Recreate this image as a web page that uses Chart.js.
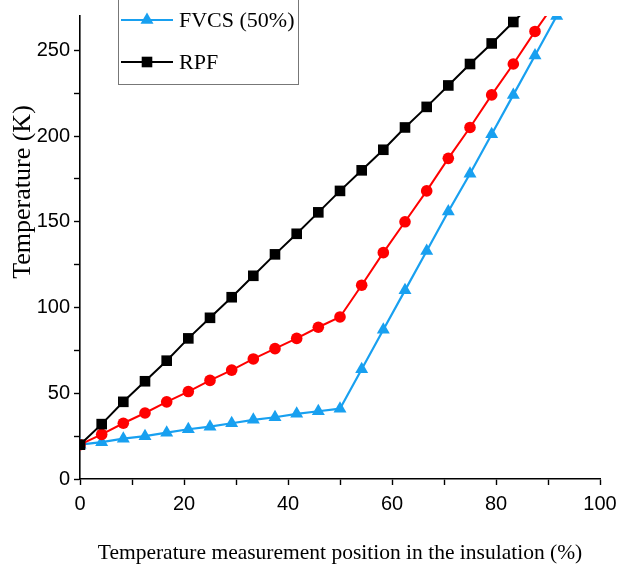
<!DOCTYPE html>
<html><head><meta charset="UTF-8">
<script src="https://cdn.jsdelivr.net/npm/chart.js"></script>
<style>
  html, body { margin: 0; padding: 0; background: #fff; }
  #wrap { width: 617px; height: 570px; position: relative; }
</style></head><body>
<div id="wrap"><canvas id="c"></canvas></div>
<script>
// measurement positions (%) along the insulation
const positions = [0, 4.17, 8.33, 12.5, 16.67, 20.83, 25, 29.17, 33.33, 37.5, 41.67, 45.83,
  50, 54.17, 58.33, 62.5, 66.67, 70.83, 75, 79.17, 83.33, 87.5, 91.67, 95.83];

// temperatures (K); the top of the plot cuts the lines at ~270 K
const redTemps  = [20, 26, 32.5, 38.5, 45, 51, 57.5, 63.5, 70, 76, 82, 88.5,
  94.5, 113, 132, 150, 168, 187, 205, 224, 242, 261, 279];
const fvcsTemps = [20, 21.5, 23.5, 25, 27, 29, 30.5, 32.5, 34.5, 36, 38, 39.5,
  41, 64, 87, 110, 133, 156, 178, 201, 224, 247, 270, 293];
const rpfTemps  = [20, 32, 45, 57, 69, 82, 94, 106, 118.5, 131, 143, 155.5,
  168, 180, 192, 205, 217, 229.5, 242, 254, 266.5, 279];

const xTitle = 'Temperature measurement position in the insulation (%)';
const yTitle = 'Temperature (K)';

const pts = arr => arr.map((v, i) => ({ x: positions[i], y: v }));

const SERIF = '"Liberation Serif", "Times New Roman", serif';
const SANS = '"Liberation Sans", Arial, sans-serif';

// legend drawn inside the plot, top-left, its top cut off like the original
const insideLegend = {
  id: 'insideLegend',
  afterDraw(chart) {
    const ctx = chart.ctx;
    const rows = [-22, 20, 62];
    ctx.save();
    ctx.fillStyle = '#fff';
    ctx.fillRect(118, -40, 180, 124);
    ctx.strokeStyle = '#777';
    ctx.lineWidth = 1;
    ctx.strokeRect(118.5, -40, 180, 124.5);
    chart.data.datasets.forEach((ds, i) => {
      if (!ds.label) return;
      const y = rows[i];
      ctx.strokeStyle = ds.borderColor;
      ctx.lineWidth = 2.2;
      ctx.beginPath(); ctx.moveTo(121, y); ctx.lineTo(173, y); ctx.stroke();
      ctx.fillStyle = ds.backgroundColor;
      Chart.helpers.drawPoint(ctx, { pointStyle: ds.pointStyle, radius: ds.pointRadius, borderWidth: 0, rotation: 0 }, 147, y);
      ctx.fillStyle = '#000';
      ctx.font = '22px ' + SERIF;
      ctx.textBaseline = 'middle';
      ctx.fillText(ds.label, 179, y + 1);
    });
    ctx.restore();
  }
};

// y-axis title sits a bit above the middle of the axis in the original
const yAxisTitle = {
  id: 'yAxisTitle',
  afterDraw(chart) {
    const ctx = chart.ctx;
    ctx.save();
    ctx.translate(23, 192);
    ctx.rotate(-Math.PI / 2);
    ctx.fillStyle = '#000';
    ctx.font = '26px ' + SERIF;
    ctx.textAlign = 'center';
    ctx.textBaseline = 'middle';
    ctx.fillText(yTitle, 0, 0);
    ctx.restore();
  }
};

new Chart(document.getElementById('c'), {
  type: 'line',
  data: {
    datasets: [
      { label: '', data: pts(redTemps), borderColor: '#ff0000', backgroundColor: '#ff0000',
        borderWidth: 2, pointStyle: 'circle', pointRadius: 5.8, pointBorderWidth: 0, order: 1 },
      { label: 'FVCS (50%)', data: pts(fvcsTemps), borderColor: '#18a0f0', backgroundColor: '#18a0f0',
        borderWidth: 2.2, pointStyle: 'triangle', pointRadius: 7.5, pointBorderWidth: 0, order: 2 },
      { label: 'RPF', data: pts(rpfTemps), borderColor: '#000', backgroundColor: '#000',
        borderWidth: 2, pointStyle: 'rect', pointRadius: 7.5, pointBorderWidth: 0, order: 0 }
    ]
  },
  options: {
    responsive: true,
    maintainAspectRatio: false,
    animation: false,
    layout: { padding: { top: 10, right: 17, left: 0, bottom: 0 } },
    plugins: { legend: { display: false }, tooltip: { enabled: false } },
    scales: {
      x: {
        type: 'linear', min: 0, max: 100,
        afterFit: s => { s.height = 91; s.paddingRight = 0; s.paddingLeft = 0; },
        border: { color: '#000', width: 1.6 },
        grid: { drawOnChartArea: false, tickLength: 6, tickColor: '#000', tickWidth: 1.4 },
        ticks: { stepSize: 10, padding: 7, color: '#000', maxRotation: 0,
          font: { family: SANS, size: 20 },
          callback: v => (v % 20 === 0 ? v : '') },
        title: { display: true, text: xTitle, color: '#000', padding: { top: 9 },
          font: { family: SERIF, size: 21.5 } }
      },
      y: {
        min: 0, max: 270,
        afterFit: s => { s.width = 80; },
        afterBuildTicks: s => { s.ticks = s.ticks.filter(t => t.value % 25 === 0); },
        border: { color: '#000', width: 1.6 },
        grid: { drawOnChartArea: false, tickLength: 6, tickColor: '#000', tickWidth: 1.4 },
        ticks: { stepSize: 25, padding: 4, color: '#000',
          font: { family: SANS, size: 20 },
          callback: v => (v % 50 === 0 ? v : '') },
        title: { display: false }
      }
    }
  },
  plugins: [insideLegend, yAxisTitle]
});
</script>
</body></html>
